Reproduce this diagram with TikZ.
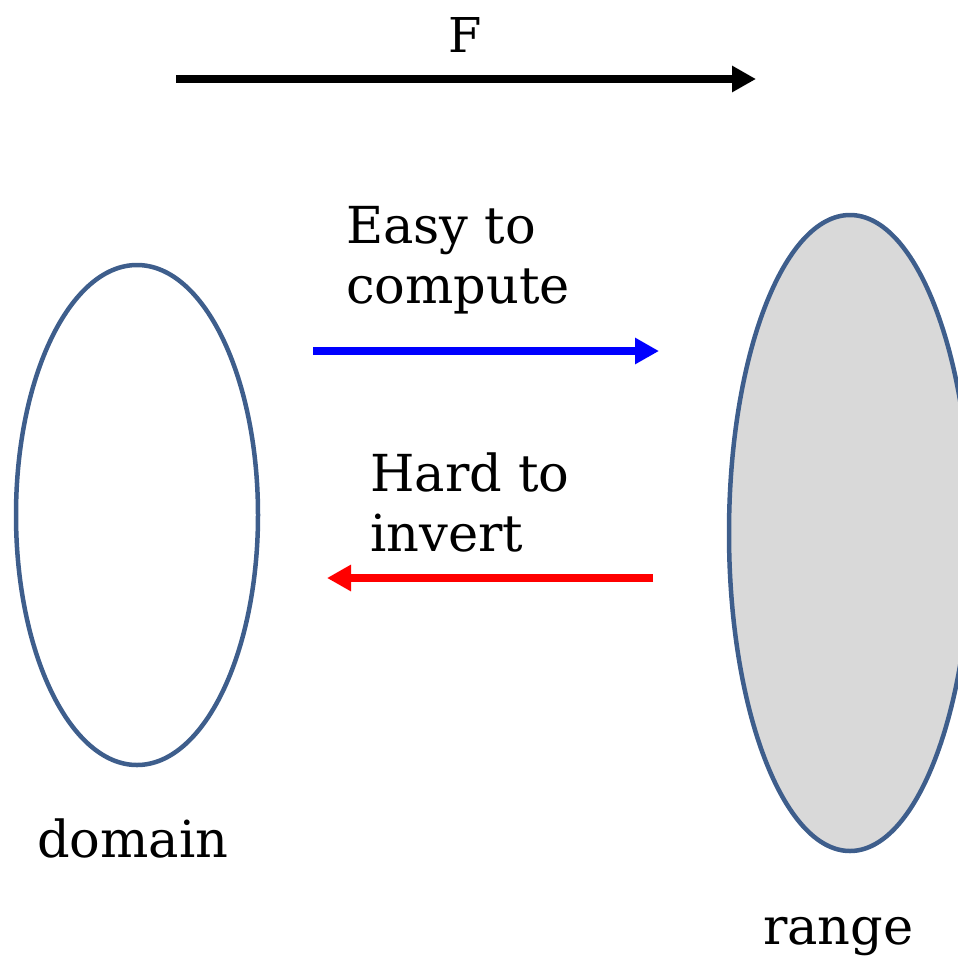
\documentclass[tikz,border=0pt]{standalone}
\usepackage{fontspec}
\setmainfont{DejaVu Serif}
\usetikzlibrary{arrows.meta}

\definecolor{setblue}{RGB}{62,94,140}
\definecolor{setgray}{RGB}{217,217,217}

\tikzset{
  bigarrow/.style={line width=8pt, -{Triangle[length=24pt, width=25pt]}},
  setline/.style={draw=setblue, line width=4.5pt},
  lbl/.style={anchor=base west, inner sep=0pt, align=left,
    font=\fontsize{51}{60}\selectfont}
}

\begin{document}
\begin{tikzpicture}[x=1pt, y=-1pt]
            \useasboundingbox (0,0) rectangle (958,956);

            % the map F
            \coordinate (fstart) at (176,79);
            \coordinate (fend) at (756,79);
            \draw[bigarrow, black] (fstart) -- (fend);
            \node[anchor=base, inner sep=0pt, font=\fontsize{48}{50}\selectfont] (flabel) at (465,52) {F};

            % domain and range
            \draw[setline] (137,515) ellipse (121 and 250); % domain
            \draw[setline, fill=setgray] (850,533) ellipse (121 and 318); % range
            \node[lbl] (domain) at (37,857) {domain};
            \node[lbl] (range) at (763,944) {range};

            % forward direction (base west sits on the last line)
            \node[lbl] (easy) at (346,303) {Easy to\\compute};
            \coordinate (estart) at (313,351);
            \coordinate (eend) at (659,351);
            \draw[bigarrow, blue] (estart) -- (eend);

            % backward direction
            \node[lbl] (hard) at (370,551) {Hard to\\invert};
            \coordinate (hstart) at (653,578);
            \coordinate (hend) at (327,578);
            \draw[bigarrow, red] (hstart) -- (hend);

\end{tikzpicture}
\end{document}
